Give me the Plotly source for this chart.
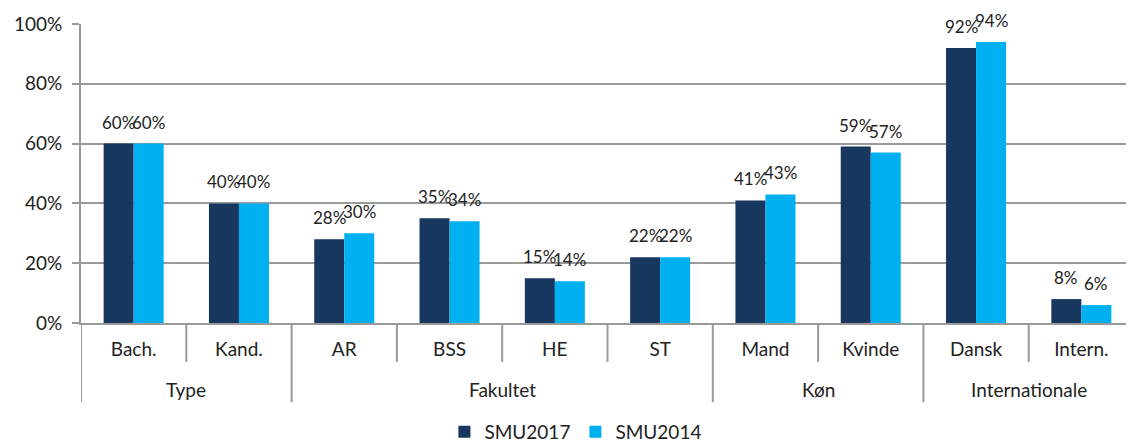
import plotly.graph_objects as go

groups = ["Type", "Type", "Fakultet", "Fakultet", "Fakultet", "Fakultet", "Køn", "Køn", "Internationale", "Internationale"]
categories = ["Bach.", "Kand.", "AR", "BSS", "HE", "ST", "Mand", "Kvinde", "Dansk", "Intern."]
smu2017 = [0.60, 0.40, 0.28, 0.35, 0.15, 0.22, 0.41, 0.59, 0.92, 0.08]
smu2014 = [0.60, 0.40, 0.30, 0.34, 0.14, 0.22, 0.43, 0.57, 0.94, 0.06]

font_family = "Lato, 'Noto Sans', sans-serif"
grid_color = "#9A9A9A"
text_color = "#222222"
bargap = 0.43
bar_w = (1 - bargap) / 2

fig = go.Figure()
for name, vals, color in [("SMU2017", smu2017, "#17375E"), ("SMU2014", smu2014, "#00B0F0")]:
    fig.add_trace(go.Bar(
        x=categories, y=vals, name=name, marker_color=color,
        marker_line_width=0,
    ))

# value labels above bars
for k, vals in enumerate([smu2017, smu2014]):
    off = (k - 0.5) * bar_w
    for i, v in enumerate(vals):
        fig.add_annotation(x=i + off, y=v, xref="x", yref="y", text=f"{round(v*100)}%",
                           showarrow=False, yanchor="bottom", yshift=9,
                           font=dict(size=17, color=text_color, family=font_family))

# category boundary ticks and group dividers
n = len(categories)
for b in range(n + 1):
    xb = b - 0.5
    is_group_edge = b == 0 or b == n or groups[b - 1] != groups[b]
    fig.add_shape(type="line", xref="x", yref="paper", x0=xb, x1=xb, y0=0,
                  y1=-0.265 if is_group_edge else -0.13,
                  line=dict(color=grid_color, width=2))

# group labels
seen = []
for g in groups:
    if g not in seen:
        seen.append(g)
for g in seen:
    idx = [i for i, gg in enumerate(groups) if gg == g]
    fig.add_annotation(x=sum(idx) / len(idx), y=-0.222, xref="x", yref="paper", text=g,
                       showarrow=False, yanchor="middle",
                       font=dict(size=19, color=text_color, family=font_family))

# page body has an 8px margin, so the figure is sized/offset to compensate
fig.update_layout(
    width=1126, height=436,
    margin=dict(l=73, r=0, t=16, b=121, autoexpand=False),
    barmode="group", bargap=bargap, bargroupgap=0,
    plot_bgcolor="white", paper_bgcolor="white",
    font=dict(family=font_family, size=19, color=text_color),
    legend=dict(orientation="h", x=0.47, xanchor="center", yref="container", y=0.028,
                yanchor="middle", font=dict(size=19), traceorder="normal", itemwidth=30),
    yaxis=dict(range=[0, 1], dtick=0.2, tickformat=".0%", showgrid=True,
               gridcolor=grid_color, gridwidth=2, showline=True, linecolor=grid_color,
               linewidth=2, ticks="outside", ticklen=7, tickcolor=grid_color, tickwidth=2,
               zeroline=False, tickfont=dict(size=19), automargin=False,
               ticklabelstandoff=6),
    xaxis=dict(type="category", range=[-0.5, n - 0.5], showline=True, linecolor=grid_color,
               linewidth=2, ticks="", showgrid=False, tickfont=dict(size=19),
               automargin=False, ticklabelstandoff=8),
)

fig.write_html("out.html")
